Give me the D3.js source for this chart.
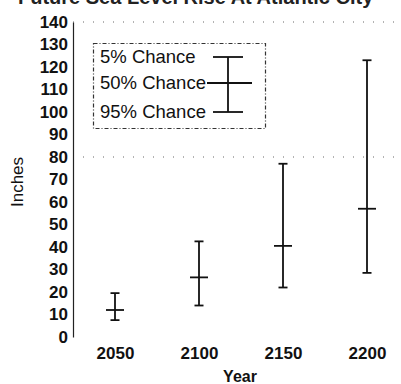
<!DOCTYPE html>
<html lang="en">
<head>
<meta charset="utf-8">
<script src="https://d3js.org/d3.v7.min.js"></script>
<style>
  body { margin: 0; background: #fff; }
  svg { display: block; font-family: "Liberation Sans", Arial, sans-serif; }
</style>
</head>
<body>
<div id="chart"></div>
<script>
// values (inches)
const years = [2050, 2100, 2150, 2200];
const p5 = [19.5, 42.5, 77, 123];     // 5% chance (top of bar)
const p50 = [12, 26.5, 40.5, 57];     // 50% chance (middle)
const p95 = [7.5, 14, 22, 28.5];      // 95% chance (bottom of bar)
const yTicks = [0, 10, 20, 30, 40, 50, 60, 70, 80, 90, 100, 110, 120, 130, 140];
const legendLabels = ["5% Chance", "50% Chance", "95% Chance"];
const gridValues = [140, 80];
const title = "Future Sea Level Rise At Atlantic City";

var width = 401, height = 384;
var margin = {top: 22, right: 0, bottom: 47, left: 73};

var svg = d3.select("#chart")
  .append("svg")
    .attr("width", width)
    .attr("height", height);

var x = d3.scaleLinear().domain([2025, 2225]).range([margin.left, 409]);
var y = d3.scaleLinear().domain([0, 140]).range([height - margin.bottom, margin.top]);

// title, cut off at the top edge like in the scan
svg.append("text")
  .attr("x", 18)
  .attr("y", 4)
  .attr("font-size", 20)
  .attr("font-weight", "bold")
  .attr("fill", "#222")
  .text(title);

// faint dotted grid lines
svg.append("g")
  .selectAll("line")
  .data(gridValues)
  .join("line")
    .attr("x1", margin.left)
    .attr("x2", width)
    .attr("y1", d => y(d))
    .attr("y2", d => y(d))
    .attr("stroke", "#666")
    .attr("stroke-width", 1)
    .attr("stroke-dasharray", "1,9");

// y axis
var yAxis = d3.axisLeft(y).tickValues(yTicks).tickSize(0).tickPadding(5);
var gy = svg.append("g")
  .attr("transform", `translate(${margin.left},0)`)
  .call(yAxis);
gy.select(".domain").attr("stroke", "#222").attr("stroke-width", 1.2);
gy.selectAll("text")
  .attr("font-size", 17)
  .attr("font-weight", "bold")
  .attr("fill", "#111")
  .attr("font-family", "Liberation Sans, Arial, sans-serif");

// x axis (labels only)
var xAxis = d3.axisBottom(x).tickValues(years).tickFormat(d3.format("d")).tickSize(0).tickPadding(10);
var gx = svg.append("g")
  .attr("transform", `translate(0,${height - margin.bottom})`)
  .call(xAxis);
gx.select(".domain").remove();
gx.selectAll("text")
  .attr("font-size", 17)
  .attr("font-weight", "bold")
  .attr("fill", "#111")
  .attr("font-family", "Liberation Sans, Arial, sans-serif");

// axis titles
svg.append("text")
  .attr("x", 240)
  .attr("y", 382)
  .attr("text-anchor", "middle")
  .attr("font-size", 16)
  .attr("font-weight", "bold")
  .attr("fill", "#111")
  .text("Year");

svg.append("text")
  .attr("transform", "translate(23,182) rotate(-90)")
  .attr("text-anchor", "middle")
  .attr("font-size", 17)
  .attr("fill", "#111")
  .text("Inches");

// error bars
var capW = 9, midW = 18;
var bars = svg.append("g")
  .selectAll("g")
  .data(years.map((yr, i) => ({yr: yr, hi: p5[i], mid: p50[i], lo: p95[i]})))
  .join("g")
    .attr("stroke", "#111")
    .attr("stroke-width", 1.8);

bars.append("line")
  .attr("x1", d => x(d.yr)).attr("x2", d => x(d.yr))
  .attr("y1", d => y(d.hi)).attr("y2", d => y(d.lo));
bars.append("line")
  .attr("x1", d => x(d.yr) - capW / 2).attr("x2", d => x(d.yr) + capW / 2)
  .attr("y1", d => y(d.hi)).attr("y2", d => y(d.hi));
bars.append("line")
  .attr("x1", d => x(d.yr) - capW / 2).attr("x2", d => x(d.yr) + capW / 2)
  .attr("y1", d => y(d.lo)).attr("y2", d => y(d.lo));
bars.append("line")
  .attr("x1", d => x(d.yr) - midW / 2).attr("x2", d => x(d.yr) + midW / 2)
  .attr("y1", d => y(d.mid)).attr("y2", d => y(d.mid));

// legend
var legend = svg.append("g");
legend.append("rect")
  .attr("x", 93.5).attr("y", 43.5)
  .attr("width", 172).attr("height", 85)
  .attr("fill", "none")
  .attr("stroke", "#333")
  .attr("stroke-width", 1.2)
  .attr("stroke-dasharray", "4,2,1,2");

var rowY = [57, 83, 112];
legend.selectAll("text")
  .data(legendLabels)
  .join("text")
    .attr("x", 100)
    .attr("y", (d, i) => rowY[i])
    .attr("dy", "0.35em")
    .attr("font-size", 18.5)
    .attr("fill", "#111")
    .text(d => d);

var lg = legend.append("g").attr("stroke", "#111").attr("stroke-width", 1.8);
lg.append("line").attr("x1", 228).attr("x2", 228).attr("y1", rowY[0]).attr("y2", rowY[2]);
lg.append("line").attr("x1", 213).attr("x2", 243).attr("y1", rowY[0]).attr("y2", rowY[0]);
lg.append("line").attr("x1", 207).attr("x2", 252).attr("y1", rowY[1]).attr("y2", rowY[1]);
lg.append("line").attr("x1", 213).attr("x2", 243).attr("y1", rowY[2]).attr("y2", rowY[2]);
</script>
</body>
</html>
